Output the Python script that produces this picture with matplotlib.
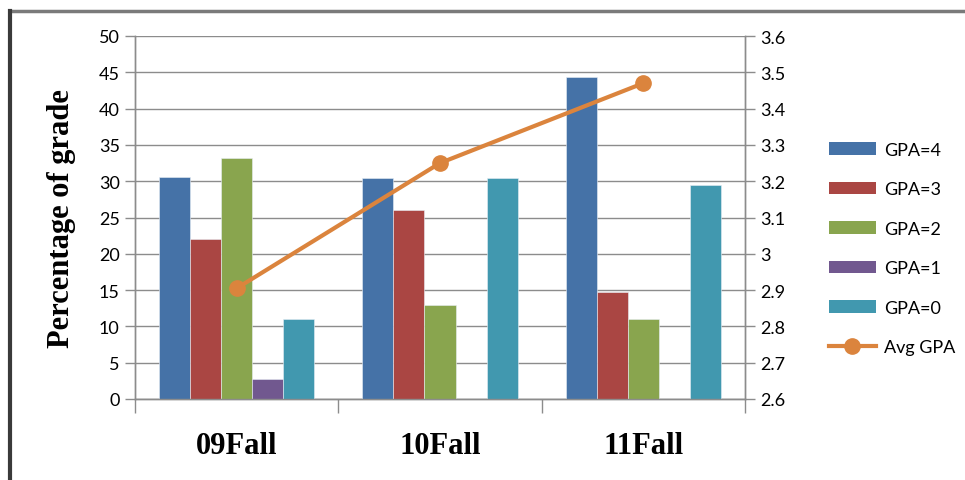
import numpy as np
import matplotlib
matplotlib.use("Agg")
import matplotlib.pyplot as plt
from matplotlib.lines import Line2D
from matplotlib.patches import Patch

terms = ["09Fall", "10Fall", "11Fall"]
series = ["GPA=4", "GPA=3", "GPA=2", "GPA=1", "GPA=0"]
gpa4 = [30.6, 30.4, 44.3]
gpa3 = [22.1, 26.1, 14.7]
gpa2 = [33.2, 12.9, 11.0]
gpa1 = [2.7, 0.0, 0.0]
gpa0 = [11.0, 30.4, 29.5]
avg_gpa = [2.905, 3.25, 3.47]

colors = ["#4572A7", "#AA4643", "#89A54E", "#71588F", "#4198AF"]
line_color = "#DB843D"
grid_color = "#8c8c8c"

plt.rcParams["font.family"] = ["Lato", "DejaVu Sans"]

fig = plt.figure(figsize=(9.65, 4.81), dpi=100)
ax = fig.add_axes([135/965, 1-400/481, 610/965, 363/481])
ax2 = ax.twinx()

x = np.arange(len(terms))
w = 0.1525
values = [gpa4, gpa3, gpa2, gpa1, gpa0]
for i, vals in enumerate(values):
    ax.bar(x + (i - 2) * w, vals, width=w, color=colors[i], zorder=3,
           edgecolor="#e8eef5", linewidth=0.4)

ax.set_xlim(-0.5, 2.5)
ax.set_ylim(0, 50)
ax.set_yticks(range(0, 51, 5))
ax.yaxis.grid(True, color=grid_color, linewidth=1.0, zorder=0)
ax.set_axisbelow(True)

ax.set_xticks(x)
ax.set_xticklabels(terms, fontfamily="Liberation Serif", fontweight="bold", fontsize=22)
ax.set_xticks([-0.5, 0.5, 1.5, 2.5], minor=True)
ax.tick_params(axis="x", which="major", length=0, pad=23)
ax.tick_params(axis="x", which="minor", length=10, color=grid_color, width=1)
ax.tick_params(axis="y", length=7, color=grid_color, width=1, labelsize=13, pad=4)

ax2.plot(x, avg_gpa, color=line_color, linewidth=3, marker="o", markersize=11, zorder=5)
ax2.set_ylim(2.6, 3.6)
gticks = np.round(np.arange(2.6, 3.61, 0.1), 1)
ax2.set_yticks(gticks)
ax2.set_yticklabels(["3" if abs(t - 3) < 1e-9 else "%.1f" % t for t in gticks])
ax2.tick_params(axis="y", length=7, color=grid_color, width=1, labelsize=13, pad=4)

for a in (ax, ax2):
    a.spines["top"].set_visible(False)
    for s in ("left", "right", "bottom"):
        a.spines[s].set_color(grid_color)
        a.spines[s].set_linewidth(1)

fig.text(61/965, 1-219/481, "Percentage of grade", rotation=90, ha="center", va="center",
         fontfamily="Liberation Serif", fontweight="bold", fontsize=22)

handles = [Patch(facecolor=c, edgecolor="none") for c in colors]
handles.append(Line2D([0], [0], color=line_color, linewidth=3, marker="o", markersize=11))
labels = series + ["Avg GPA"]
fig.legend(handles, labels, loc="upper left", bbox_to_anchor=(829/965, 1-143/481),
           frameon=False, fontsize=13, handlelength=2.6, handleheight=0.7,
           handletextpad=0.45, labelspacing=1.3, borderpad=0, borderaxespad=0)

# outer frame (top and left edges)
fig.add_artist(Line2D([10/965, 1], [1-12/481, 1-12/481], color="#7a7a7a", linewidth=2.5))
fig.add_artist(Line2D([10/965, 10/965], [0, 1-12/481], color="#3a3a3a", linewidth=3))

fig.savefig("out.png", dpi=100)
